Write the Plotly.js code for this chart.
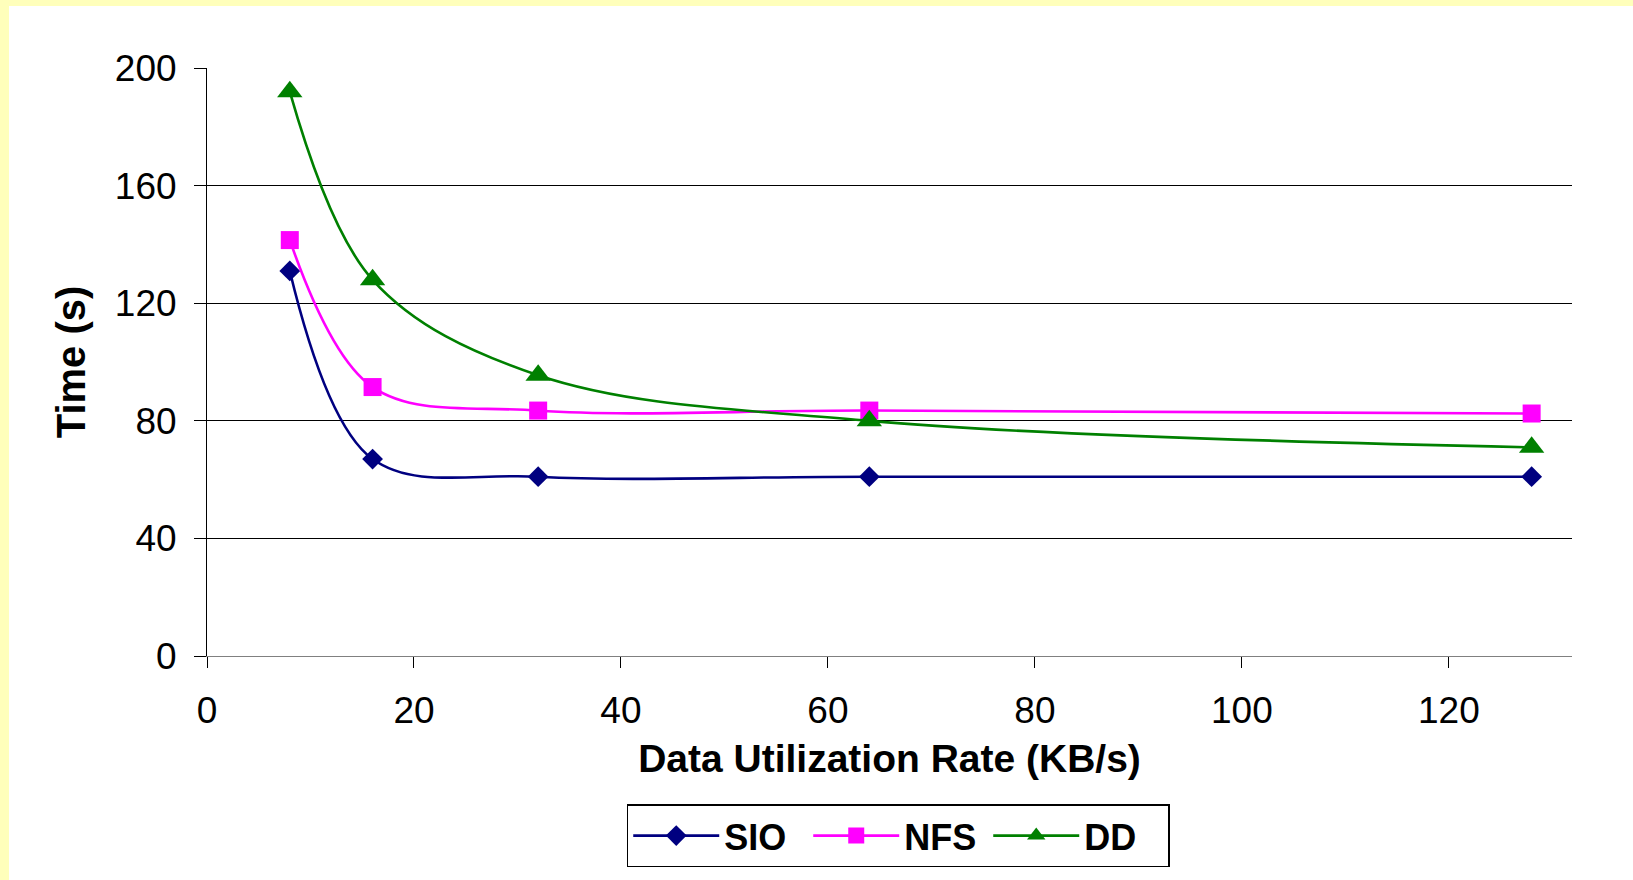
<!DOCTYPE html>
<html>
<head>
<meta charset="utf-8">
<script src="https://cdn.plot.ly/plotly-3.0.1.min.js"></script>
<style>
  html, body { margin: 0; padding: 0; background: #FFFFBB; width: 1633px; height: 880px; overflow: hidden; }
  #chart { position: absolute; left: 9px; top: 6px; width: 1624px; height: 874px; background: #fff; }
</style>
</head>
<body>
<div id="chart"></div>
<script>
// Data
const rates = [8, 16, 32, 64, 128];            // Data Utilization Rate (KB/s)
const sio   = [131, 67, 61, 61, 61];            // Time (s)
const nfs   = [141.5, 91.5, 83.5, 83.5, 82.5];
const dd    = [192, 128, 95.5, 80, 71];
const seriesNames = ['SIO', 'NFS', 'DD'];
const xTicks = [0, 20, 40, 60, 80, 100, 120];
const yTicks = [0, 40, 80, 120, 160, 200];

const FONT = 'Liberation Sans, Arial, sans-serif';

function trace(name, y, color, symbol, size) {
  return {
    x: rates, y: y, name: name, type: 'scatter', mode: 'lines+markers',
    line: { color: color, width: 2.6, shape: 'spline', smoothing: 1 },
    marker: { color: color, symbol: symbol, size: size, line: { width: 0 } }
  };
}

const data = [
  trace(seriesNames[0], sio, '#000080', 'diamond', 16),
  trace(seriesNames[1], nfs, '#FF00FF', 'square', 18),
  trace(seriesNames[2], dd,  '#008000', 'triangle-up', 22)
];

const layout = {
  width: 1624, height: 874,
  paper_bgcolor: '#ffffff', plot_bgcolor: '#ffffff',
  margin: { l: 197.5, r: 60.5, t: 62.3, b: 224 },
  font: { family: FONT, color: '#000' },
  showlegend: true,
  legend: {
    orientation: 'h', x: 0.3075, y: -0.252, xanchor: 'left', yanchor: 'top',
    bordercolor: '#000', borderwidth: 1.5, bgcolor: '#fff',
    font: { family: FONT, size: 36, weight: 'bold', color: '#000' },
    itemwidth: 86, entrywidth: 79, entrywidthmode: 'pixels'
  },
  xaxis: {
    range: [0, 131.9], tickvals: xTicks, ticktext: xTicks.map(String),
    showgrid: false, zeroline: false,
    showline: true, linecolor: '#808080', linewidth: 1,
    ticks: 'outside', ticklen: 11, tickcolor: '#000', tickwidth: 1,
    ticklabelstandoff: 11,
    tickfont: { family: FONT, size: 37, color: '#000' },
    title: { text: 'Data Utilization Rate (KB/s)', font: { family: FONT, size: 39, weight: 'bold', color: '#000' }, standoff: 14 }
  },
  yaxis: {
    range: [0, 200.05], tickvals: yTicks, ticktext: yTicks.map(String),
    showgrid: true, gridcolor: '#000', gridwidth: 1, zeroline: false,
    showline: true, linecolor: '#000', linewidth: 1,
    ticks: 'outside', ticklen: 12, tickcolor: '#000', tickwidth: 1,
    ticklabelstandoff: 10,
    tickfont: { family: FONT, size: 37, color: '#000' },
    title: { text: 'Time (s)', font: { family: FONT, size: 40, weight: 'bold', color: '#000' }, standoff: 16 }
  }
};

Plotly.newPlot('chart', data, layout, { displayModeBar: false, staticPlot: true });
</script>
</body>
</html>
